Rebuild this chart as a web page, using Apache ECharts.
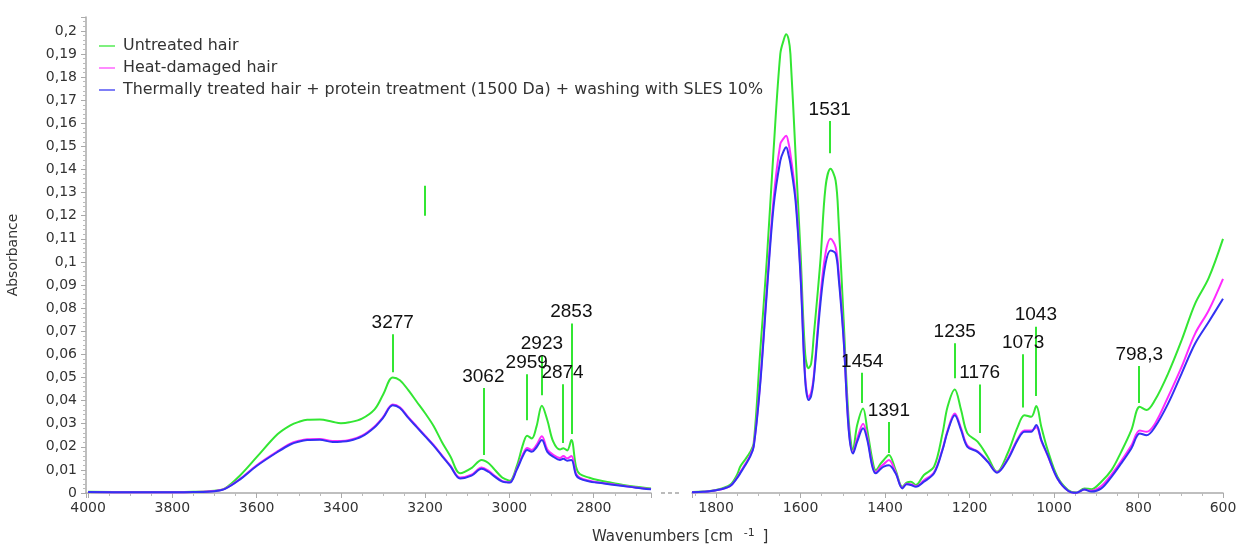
<!DOCTYPE html>
<html>
<head>
<meta charset="utf-8">
<title>FTIR hair spectra</title>
<script src="https://cdn.jsdelivr.net/npm/echarts@6/dist/echarts.min.js"></script>
<style>
  html, body { margin: 0; padding: 0; background: #fff; }
  #chart { width: 1244px; height: 544px; }
</style>
</head>
<body>
<div id="chart"></div>
<script>
// series names
const names = [
  'Untreated hair',
  'Heat-damaged hair',
  'Thermally treated hair + protein treatment (1500 Da) + washing with SLES 10%'
];

// left part of the spectrum (4000 - 2664 cm-1)
const leftWn = [4000, 3900, 3800, 3750, 3700, 3675, 3640, 3600, 3550, 3520, 3500, 3480, 3450, 3420, 3400, 3380, 3350, 3320, 3300, 3277, 3260, 3240, 3220, 3200, 3180, 3160, 3140, 3117, 3090, 3066, 3050, 3038, 3018, 3007, 2999, 2983, 2967, 2958, 2947, 2936, 2923, 2910, 2896, 2880, 2872, 2863, 2853, 2842, 2833, 2810, 2793, 2760, 2730, 2700, 2664];
const leftUntreated = [0.0005, 0.0004, 0.0004, 0.0005, 0.001, 0.002, 0.0075, 0.0155, 0.0255, 0.0293, 0.0308, 0.0317, 0.0318, 0.0308, 0.0302, 0.0306, 0.0322, 0.0362, 0.0425, 0.05, 0.0488, 0.0445, 0.0395, 0.0345, 0.029, 0.022, 0.0158, 0.0085, 0.0108, 0.0143, 0.013, 0.0107, 0.0068, 0.0058, 0.0053, 0.0114, 0.0215, 0.0248, 0.0236, 0.0286, 0.0378, 0.0315, 0.0222, 0.0188, 0.0194, 0.0184, 0.0229, 0.0114, 0.0082, 0.0066, 0.0057, 0.0045, 0.0035, 0.0027, 0.002];
const leftHeat = [0.0004, 0.0003, 0.0003, 0.0004, 0.0009, 0.0019, 0.006, 0.012, 0.0181, 0.0214, 0.0226, 0.0233, 0.0234, 0.0225, 0.0225, 0.0229, 0.0248, 0.0288, 0.0328, 0.0383, 0.0371, 0.0328, 0.0288, 0.0248, 0.0208, 0.0163, 0.0118, 0.0067, 0.0079, 0.011, 0.0097, 0.0079, 0.0053, 0.0048, 0.0047, 0.0103, 0.0172, 0.0195, 0.0186, 0.0207, 0.0246, 0.0188, 0.0165, 0.0152, 0.016, 0.015, 0.016, 0.0084, 0.0066, 0.0053, 0.0047, 0.0039, 0.0031, 0.0024, 0.0017];
const leftTreated = [0.0004, 0.0003, 0.0003, 0.0004, 0.0008, 0.0018, 0.0058, 0.0117, 0.0178, 0.021, 0.0222, 0.0229, 0.023, 0.0221, 0.0222, 0.0226, 0.0245, 0.0285, 0.0325, 0.038, 0.0368, 0.0325, 0.0285, 0.0245, 0.0205, 0.016, 0.0115, 0.0063, 0.0075, 0.0105, 0.0092, 0.0075, 0.005, 0.0046, 0.0045, 0.0099, 0.0164, 0.0186, 0.0178, 0.0197, 0.0229, 0.0178, 0.0157, 0.0143, 0.0148, 0.014, 0.0143, 0.0078, 0.0062, 0.005, 0.0045, 0.0037, 0.003, 0.0023, 0.0016];

// right part of the spectrum (1857 - 600 cm-1)
const rightWn = [1857, 1830, 1800, 1767, 1750, 1743, 1731, 1720, 1711, 1696, 1680, 1664, 1648, 1640, 1634, 1628, 1624, 1612, 1600, 1589, 1581, 1575, 1569, 1553, 1541, 1529, 1517, 1510, 1498, 1486, 1476, 1466, 1452, 1442, 1430, 1422, 1410, 1403, 1391, 1375, 1359, 1349, 1339, 1327, 1308, 1284, 1264, 1252, 1235, 1220, 1205, 1181, 1157, 1135, 1110, 1086, 1070, 1054, 1042, 1030, 1015, 992, 967, 947, 928, 912, 888, 864, 841, 817, 797, 781, 761, 730, 698, 666, 634, 600];
const rightUntreated = [0.0004, 0.0006, 0.0013, 0.0035, 0.008, 0.0114, 0.0145, 0.0175, 0.0215, 0.06, 0.1006, 0.148, 0.19, 0.196, 0.1985, 0.196, 0.19, 0.147, 0.1036, 0.06, 0.054, 0.056, 0.0675, 0.1006, 0.1323, 0.1403, 0.1352, 0.118, 0.0747, 0.0315, 0.0186, 0.0294, 0.0366, 0.0272, 0.0143, 0.0099, 0.0128, 0.0143, 0.0164, 0.0099, 0.0027, 0.0045, 0.0049, 0.0035, 0.0078, 0.0114, 0.0258, 0.0373, 0.0448, 0.0359, 0.0258, 0.0222, 0.0157, 0.0092, 0.0171, 0.0286, 0.0337, 0.033, 0.0376, 0.0286, 0.0186, 0.007, 0.0013, 0.0002, 0.002, 0.0016, 0.0049, 0.0099, 0.0178, 0.0272, 0.0373, 0.0359, 0.0402, 0.0517, 0.0661, 0.082, 0.093, 0.11];
const rightHeat = [0.0003, 0.0005, 0.0012, 0.003, 0.0068, 0.009, 0.0125, 0.016, 0.0205, 0.047, 0.088, 0.127, 0.151, 0.1535, 0.1546, 0.151, 0.1467, 0.129, 0.095, 0.05, 0.0415, 0.0435, 0.05, 0.085, 0.1036, 0.11, 0.1064, 0.096, 0.067, 0.028, 0.0175, 0.0235, 0.03, 0.024, 0.012, 0.009, 0.0115, 0.0125, 0.0143, 0.009, 0.0022, 0.004, 0.0038, 0.003, 0.0055, 0.009, 0.019, 0.027, 0.0344, 0.028, 0.0205, 0.018, 0.0137, 0.009, 0.0148, 0.0235, 0.027, 0.027, 0.0285, 0.0225, 0.0162, 0.0063, 0.001, 0.0001, 0.0015, 0.001, 0.003, 0.008, 0.0138, 0.0205, 0.027, 0.0265, 0.03, 0.0416, 0.0546, 0.069, 0.079, 0.0927];
const rightTreated = [0.0003, 0.0005, 0.0012, 0.003, 0.0065, 0.0085, 0.012, 0.0155, 0.02, 0.046, 0.0863, 0.1237, 0.1438, 0.148, 0.1496, 0.146, 0.1425, 0.1266, 0.0934, 0.0488, 0.0402, 0.042, 0.0488, 0.082, 0.0992, 0.105, 0.1036, 0.0934, 0.0661, 0.0272, 0.0171, 0.0222, 0.028, 0.0229, 0.0114, 0.0085, 0.0105, 0.0114, 0.012, 0.0085, 0.002, 0.0038, 0.0035, 0.0027, 0.0049, 0.0085, 0.0186, 0.0265, 0.0337, 0.0272, 0.02, 0.0178, 0.0135, 0.0088, 0.0143, 0.0229, 0.0265, 0.0265, 0.0294, 0.0229, 0.0164, 0.0063, 0.001, 0.0001, 0.0015, 0.0006, 0.002, 0.007, 0.0128, 0.0193, 0.0258, 0.025, 0.0286, 0.0387, 0.0517, 0.0647, 0.074, 0.0841];

// peak markers: position, label, marker bottom/top absorbance
const peakLeftWn = [3277, 3062, 2959, 2923, 2874, 2853, 3200];
const peakLeftLabels = ['3277', '3062', '2959', '2923', '2874', '2853', ''];
const peakLeftFrom = [0.0523, 0.0164, 0.0315, 0.0423, 0.0216, 0.0255, 0.120];
const peakLeftTo = [0.0687, 0.0454, 0.0514, 0.0596, 0.0471, 0.0734, 0.133];

const peakRightWn = [1531, 1454, 1391, 1235, 1176, 1073, 1043, 798.3];
const peakRightLabels = ['1531', '1454', '1391', '1235', '1176', '1073', '1043', '798,3'];
const peakRightFrom = [0.147, 0.039, 0.0173, 0.0497, 0.026, 0.037, 0.042, 0.039];
const peakRightTo = [0.161, 0.052, 0.0307, 0.0648, 0.047, 0.060, 0.072, 0.055];

const colors = ['#33e633', '#ff2bff', '#3232f2'];
const legendColors = ['#7ff07f', '#ff8cff', '#7f7ff7'];

function zip(xs, ys) {
  return xs.map((x, i) => [x, ys[i]]);
}

function peakLines(wn, labels, from, to) {
  return wn.map((w, i) => [
    { coord: [w, from[i]], name: labels[i] },
    { coord: [w, to[i]] }
  ]);
}

function yLabel(v) {
  if (Math.abs(v * 100 - Math.round(v * 100)) > 1e-6) return '';
  return String(+v.toFixed(2)).replace('.', ',');
}

function xLabel(v) {
  return Math.round(v) % 200 === 0 ? String(Math.round(v)) : '';
}

const axisFont = { fontFamily: 'DejaVu Sans', fontSize: 14, color: '#333' };

const xBase = {
  type: 'value',
  inverse: true,
  axisLine: { show: true, lineStyle: { color: '#aaa', width: 1.5 } },
  axisTick: { show: true, length: 5, lineStyle: { color: '#aaa' } },
  minorTick: { show: true, splitNumber: 4, length: 3, lineStyle: { color: '#bbb' } },
  splitLine: { show: false },
  axisLabel: Object.assign({ formatter: xLabel, margin: 8 }, axisFont)
};

function markFor(wn, labels, from, to) {
  return {
    silent: true,
    symbol: 'none',
    animation: false,
    lineStyle: { color: '#33e633', width: 2, type: 'solid' },
    label: {
      show: true,
      position: 'end',
      distance: 2,
      formatter: '{b}',
      fontFamily: 'Liberation Sans',
      fontSize: 19,
      color: '#111'
    },
    data: peakLines(wn, labels, from, to)
  };
}

const leftSets = [leftUntreated, leftHeat, leftTreated];
const rightSets = [rightUntreated, rightHeat, rightTreated];
const series = [];
names.forEach((name, i) => {
  const base = {
    name: name,
    type: 'line',
    showSymbol: false,
    smooth: 0.35,
    lineStyle: { width: 2, color: colors[i] },
    itemStyle: { color: colors[i] },
    z: 2 + i
  };
  series.push(Object.assign({}, base, {
    xAxisIndex: 0, yAxisIndex: 0,
    data: zip(leftWn, leftSets[i]),
    markLine: i === 0 ? markFor(peakLeftWn, peakLeftLabels, peakLeftFrom, peakLeftTo) : undefined
  }));
  series.push(Object.assign({}, base, {
    xAxisIndex: 1, yAxisIndex: 1,
    data: zip(rightWn, rightSets[i]),
    markLine: i === 0 ? markFor(peakRightWn, peakRightLabels, peakRightFrom, peakRightTo) : undefined
  }));
});

const chart = echarts.init(document.getElementById('chart'));
chart.setOption({
  animation: false,
  backgroundColor: '#fff',
  title: {
    text: 'Wavenumbers [cm {sup|-1} ]',
    left: 592,
    top: 528,
    padding: 0,
    textStyle: {
      fontFamily: 'DejaVu Sans', fontSize: 15, fontWeight: 'normal', color: '#333',
      rich: { sup: { fontFamily: 'DejaVu Sans', fontSize: 11, color: '#333', verticalAlign: 'top', padding: [0, 3, 8, 6] } }
    }
  },
  legend: {
    orient: 'vertical',
    left: 99,
    top: 38,
    padding: 0,
    itemWidth: 16,
    itemHeight: 2,
    itemGap: 6,
    icon: 'rect',
    textStyle: { fontFamily: 'DejaVu Sans', fontSize: 15.9, color: '#333', lineHeight: 16, padding: [0, 0, 0, 3] },
    data: names.map((n, i) => ({ name: n, itemStyle: { color: legendColors[i] } }))
  },
  grid: [
    { left: 86, top: 17, width: 565, height: 476 },
    { left: 692, top: 17, width: 531, height: 476 }
  ],
  xAxis: [
    Object.assign({}, xBase, { gridIndex: 0, min: 2664, max: 4005, splitNumber: 7 }),
    Object.assign({}, xBase, { gridIndex: 1, min: 600, max: 1857, interval: 200 })
  ],
  yAxis: [
    {
      type: 'value', gridIndex: 0, min: 0, max: 0.206, interval: 0.01,
      name: 'Absorbance', nameLocation: 'middle', nameGap: 66,
      nameTextStyle: { fontFamily: 'DejaVu Sans', fontSize: 14, color: '#333' },
      axisLine: { show: true, lineStyle: { color: '#aaa', width: 1.5 } },
      axisTick: { show: true, length: 5, lineStyle: { color: '#aaa' } },
      minorTick: { show: true, splitNumber: 5, length: 3, lineStyle: { color: '#bbb' } },
      splitLine: { show: false },
      axisLabel: Object.assign({ formatter: yLabel, margin: 9 }, axisFont)
    },
    { type: 'value', gridIndex: 1, min: 0, max: 0.206, show: false, splitLine: { show: false } }
  ],
  graphic: [
    { type: 'rect', shape: { x: 661, y: 492, width: 4, height: 2 }, style: { fill: '#bbb' } },
    { type: 'rect', shape: { x: 668, y: 492, width: 4, height: 2 }, style: { fill: '#bbb' } },
    { type: 'rect', shape: { x: 675, y: 492, width: 4, height: 2 }, style: { fill: '#bbb' } }
  ],
  series: series
});
</script>
</body>
</html>
